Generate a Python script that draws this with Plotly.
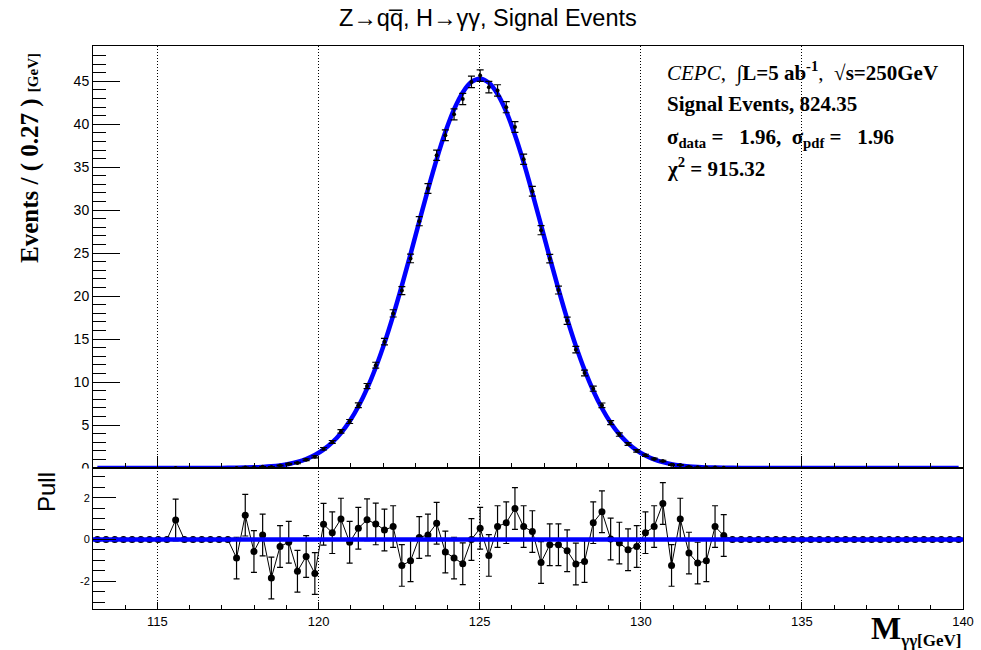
import numpy as np
import plotly.graph_objects as go

# ---------------- data ----------------
x_min, x_max = 113.0, 140.0
bin_width = 0.27
n_bins = 100
bin_centers = x_min + bin_width * (np.arange(n_bins) + 0.5)

# weighted signal events per bin (upper panel markers)
data_vals = ([0.0] * 9 + [0.0005] + [0.0] * 6 + [
    0.013, 0.071, 0.060, 0.132, 0.115, 0.289, 0.461, 0.578, 0.957, 1.304,
    2.241, 3.029, 4.257, 5.41, 7.30, 9.53, 11.96, 14.70, 17.99, 20.64,
    24.38, 28.72, 32.52, 36.39, 38.71, 41.15, 42.93, 44.92, 45.66, 44.31,
    43.93, 41.98, 39.68, 35.92, 32.20, 27.67, 24.35, 20.70, 17.13, 13.77,
    11.06, 9.23, 7.30, 5.28, 3.89, 2.79, 2.00, 1.48, 1.059, 0.817,
    0.365, 0.345, 0.159, 0.078, 0.045, 0.057, 0.029] + [0.0] * 27)

data_errs = ([0.0] * 9 + [0.0005] + [0.0] * 6 + [
    0.017, 0.021, 0.028, 0.035, 0.044, 0.055, 0.069, 0.084, 0.102, 0.123,
    0.146, 0.172, 0.202, 0.233, 0.268, 0.304, 0.342, 0.381, 0.421, 0.461,
    0.499, 0.535, 0.569, 0.599, 0.625, 0.646, 0.661, 0.670, 0.673, 0.670,
    0.660, 0.644, 0.623, 0.596, 0.566, 0.532, 0.495, 0.456, 0.417, 0.377,
    0.338, 0.300, 0.264, 0.230, 0.198, 0.169, 0.143, 0.120, 0.100, 0.082,
    0.067, 0.054, 0.043, 0.034, 0.027, 0.021, 0.016] + [0.0] * 27)

# fitted pdf evaluated at the bin centres (blue curve)
fit_vals = ([0.0] * 13 + [0.005, 0.009, 0.016] + [
    0.028, 0.046, 0.076, 0.124, 0.197, 0.307, 0.470, 0.706, 1.040, 1.504,
    2.134, 2.972, 4.06, 5.44, 7.16, 9.24, 11.70, 14.53, 17.73, 21.21,
    24.89, 28.67, 32.39, 35.92, 39.08, 41.72, 43.70, 44.92, 45.30, 44.82,
    43.52, 41.46, 38.75, 35.55, 31.99, 28.25, 24.47, 20.81, 17.35, 14.21,
    11.41, 8.99, 6.95, 5.27, 3.92, 2.87, 2.05, 1.44, 0.997, 0.675,
    0.448, 0.292, 0.187, 0.117, 0.072, 0.044, 0.026] + [0.015, 0.009] + [0.0] * 25)

# pulls (lower panel)
pull_vals = ([0.0] * 9 + [0.94] + [0.0] * 6 + [
    -0.89, 1.17, -0.57, 0.22, -1.84, -0.33, -0.13, -1.52, -0.81, -1.63,
    0.73, 0.33, 0.98, -0.13, 0.54, 0.95, 0.75, 0.46, 0.62, -1.24,
    -1.02, 0.10, 0.22, 0.78, -0.60, -0.89, -1.16, 0.00, 0.54, -0.76,
    0.62, 0.81, 1.49, 0.62, 0.38, -1.10, -0.25, -0.25, -0.54, -1.17,
    -1.05, 0.81, 1.33, 0.03, -0.17, -0.49, -0.33, 0.33, 0.62, 1.73,
    -1.24, 0.98, -0.65, -1.13, -1.02, 0.62, 0.19] + [0.0] * 27)
pull_errs = [1.0 if v > 0 else 0.0 for v in data_vals]

pull_ref = 0.0
x_tick_vals = [115, 120, 125, 130, 135, 140]
x_tick_labels = ["115", "120", "125", "130", "135", "140"]
y_pull_ticks = [-2, 0, 2]
y_pull_labels = ["-2", "0", "2"]

# ---------------- figure ----------------
W, H = 981, 650
BLUE = "#0000ff"
SANS = "Liberation Sans, Arial, Helvetica, sans-serif"
SERIF = "Liberation Serif, Times New Roman, serif"

def px_x(p):
    return p / W

def px_y(p):
    return (H - p) / H

mask = [v > 0 for v in data_vals]
xd = [c for c, m in zip(bin_centers, mask) if m]
yd = [v for v, m in zip(data_vals, mask) if m]
ed = [e for e, m in zip(data_errs, mask) if m]

fig = go.Figure()
fig.add_trace(go.Scatter(
    x=bin_centers, y=fit_vals, mode="lines", line=dict(color=BLUE, width=4.5, shape="spline"),
    xaxis="x", yaxis="y", hoverinfo="skip"))
fig.add_trace(go.Scatter(
    x=xd, y=yd, mode="markers", marker=dict(color="black", size=4),
    error_y=dict(type="data", array=ed, color="black", thickness=1.2, width=3.5),
    xaxis="x", yaxis="y"))

fig.add_trace(go.Scatter(
    x=bin_centers, y=pull_vals, mode="lines+markers",
    line=dict(color="black", width=1), marker=dict(color="black", size=7),
    error_y=dict(type="data", array=pull_errs, color="black", thickness=1.2, width=3),
    xaxis="x2", yaxis="y2"))
fig.add_trace(go.Scatter(
    x=[x_min, x_max], y=[pull_ref, pull_ref], mode="lines",
    line=dict(color=BLUE, width=4.5), xaxis="x2", yaxis="y2", hoverinfo="skip"))

xdom = [px_x(93), px_x(963)]
common_x = dict(
    range=[x_min, x_max], domain=xdom, showline=True, linecolor="black", linewidth=1,
    mirror=True, zeroline=False, showgrid=True, gridcolor="black", gridwidth=1,
    griddash="1px,2px", ticks="inside", tickcolor="black", automargin=False,
    tickmode="array", tickvals=x_tick_vals,
)

fig.update_layout(
    template="none",
    width=W, height=H, autosize=False,
    margin=dict(l=0, r=0, t=0, b=0, pad=0, autoexpand=False),
    paper_bgcolor="white", plot_bgcolor="white", showlegend=False,
    xaxis=dict(common_x, anchor="y", ticklen=12, showticklabels=False,
               minor=dict(tickmode="linear", tick0=113, dtick=1, ticklen=5, ticks="inside",
                          tickcolor="black", showgrid=False)),
    xaxis2=dict(common_x, anchor="y2", matches="x", ticklen=7, showticklabels=True,
                ticktext=x_tick_labels,
                tickfont=dict(family=SANS, size=13, color="black"),
                minor=dict(tickmode="linear", tick0=113, dtick=1, ticklen=4, ticks="inside",
                           tickcolor="black", showgrid=False)),
    yaxis=dict(domain=[px_y(468), px_y(46)], anchor="x", range=[0, 49.1], automargin=False,
               showline=True, linecolor="black", linewidth=1, mirror=True,
               zeroline=False, showgrid=False, tick0=0, dtick=5,
               ticks="inside", ticklen=27, tickcolor="black",
               tickfont=dict(family=SANS, size=14, color="black"),
               minor=dict(dtick=1, ticklen=13, ticks="inside", tickcolor="black")),
    yaxis2=dict(domain=[px_y(609), px_y(468)], anchor="x2", range=[-3.33, 3.43], automargin=False,
                showline=True, linecolor="black", linewidth=1, mirror=True,
                zeroline=False, showgrid=False,
                tickmode="array", tickvals=y_pull_ticks, ticktext=y_pull_labels,
                ticks="inside", ticklen=23, tickcolor="black",
                tickfont=dict(family=SANS, size=11, color="black"),
                minor=dict(tickmode="linear", tick0=0, dtick=0.5, ticklen=12,
                           ticks="inside", tickcolor="black")),
)

# cover the lower half of the upper panel "0" label (hidden by the pull pad in the original)
fig.add_shape(type="rect", xref="paper", yref="paper", x0=px_x(55), x1=px_x(92),
              y0=px_y(480), y1=px_y(468.5), fillcolor="white", line=dict(width=0), layer="above")

ann = []
ann.append(dict(text="Z\u2192qq\u0305, H\u2192\u03b3\u03b3, Signal Events",
                x=px_x(488), y=px_y(18), xanchor="center", yanchor="middle",
                font=dict(family=SANS, size=23.5, color="black")))
ann.append(dict(text="<b>Events / ( 0.27 )</b> <span style='font-size:15px'><b>[GeV]</b></span>",
                x=px_x(30), y=px_y(158), textangle=-90, xanchor="center", yanchor="middle",
                font=dict(family=SERIF, size=25, color="black")))
ann.append(dict(text="Pull", x=px_x(46), y=px_y(492), textangle=-90,
                xanchor="center", yanchor="middle",
                font=dict(family=SANS, size=24, color="black")))
ann.append(dict(text="<b>M</b><sub><span style='font-size:17px'><b>\u03b3\u03b3[GeV]</b></span></sub>",
                x=px_x(963), y=px_y(630), xanchor="right", yanchor="middle",
                font=dict(family=SERIF, size=32, color="black")))

legend_lines = [
    ("<i>CEPC</i>,\u00a0 \u222b<b>L=5 ab<sup>-1</sup></b>,\u00a0 \u221a<b>s=250GeV</b>", 72),
    ("<b>Signal Events, 824.35</b>", 104),
    ("<b>\u03c3<sub>data</sub> =\u00a0\u00a0 1.96,\u00a0 \u03c3<sub>pdf</sub> =\u00a0\u00a0 1.96</b>", 138),
    ("<b>\u03c7<sup>2</sup> = 915.32</b>", 168),
]
for txt, yy in legend_lines:
    ann.append(dict(text=txt, x=px_x(665), y=px_y(yy), xanchor="left", yanchor="middle",
                    font=dict(family=SERIF, size=21, color="black")))

for a in ann:
    a.update(xref="paper", yref="paper", showarrow=False)
fig.update_layout(annotations=ann)

fig.write_html("out.html")
